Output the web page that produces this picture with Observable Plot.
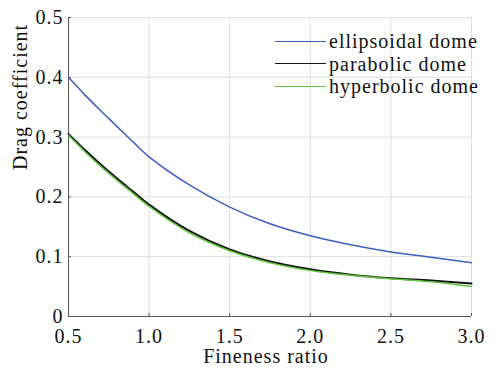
<!DOCTYPE html>
<html>
<head>
<meta charset="utf-8">
<script src="https://cdn.jsdelivr.net/npm/d3@7"></script>
<script src="https://cdn.jsdelivr.net/npm/@observablehq/plot@0.6"></script>
<style>
  html, body { margin: 0; padding: 0; background: #fff; }
  #wrap { position: relative; width: 501px; height: 370px; }
  #legend { position: absolute; left: 275px; top: 30px; font-size: 20px; line-height: 22.5px; color: #111; }
  #legend .row { display: flex; align-items: center; white-space: nowrap; }
  #legend .swatch { width: 51px; height: 0; margin-right: 3px; }
</style>
</head>
<body>
<div id="wrap"></div>
<script>
// Fineness ratio samples
const fineness = [0.5, 0.6, 0.7, 0.8, 0.9, 1.0, 1.25, 1.5, 1.75, 2.0, 2.25, 2.5, 2.75, 3.0];
// Drag coefficient per dome shape
const ellipsoidal = [0.400, 0.371, 0.344, 0.318, 0.292, 0.267, 0.220, 0.183, 0.155, 0.135, 0.120, 0.108, 0.099, 0.090];
const parabolic   = [0.305, 0.279, 0.254, 0.231, 0.209, 0.187, 0.143, 0.112, 0.092, 0.079, 0.070, 0.064, 0.060, 0.055];
const hyperbolic  = [0.303, 0.276, 0.251, 0.228, 0.206, 0.184, 0.140, 0.110, 0.090, 0.077, 0.069, 0.063, 0.058, 0.050];

const seriesNames = ["ellipsoidal dome", "parabolic dome", "hyperbolic dome"];
const seriesColors = ["#3b5fc0", "#111111", "#62c23f"];
const seriesWidths = [1.5, 2, 1.5];

const xTicks = [0.5, 1.0, 1.5, 2.0, 2.5, 3.0];
const yTicks = [0, 0.1, 0.2, 0.3, 0.4, 0.5];

const table = [];
[ellipsoidal, parabolic, hyperbolic].forEach((vals, s) => {
  vals.forEach((v, i) => table.push({series: seriesNames[s], x: fineness[i], y: v}));
});

const fontStack = '"Liberation Serif", monospace';
const fs = 20;
const spacing = "1px";

function setFont(el) {
  el.style.setProperty("font-family", fontStack, "important");
  el.style.setProperty("letter-spacing", spacing, "important");
}

const chart = Plot.plot({
  width: 501,
  height: 370,
  marginLeft: 68,
  marginRight: 30,
  marginTop: 17,
  marginBottom: 54,
  style: {fontSize: `${fs}px`, color: "#111", background: "transparent"},
  x: {domain: [0.5, 3.0]},
  y: {domain: [0, 0.5]},
  marks: [
    Plot.gridX(xTicks, {stroke: "#dedede", strokeOpacity: 1}),
    Plot.gridY(yTicks, {stroke: "#dedede", strokeOpacity: 1}),
    Plot.axisX({ticks: xTicks, tickSize: 0, tickPadding: 12, tickFormat: d3.format(".1f"), label: null, fontSize: fs}),
    Plot.axisY({ticks: yTicks, tickSize: 0, tickPadding: 5, tickFormat: d => d === 0 ? "0" : d.toFixed(1), label: null, fontSize: fs}),
    // inward tick marks
    Plot.ruleX(xTicks, {y1: 0, y2: 0, insetTop: -3, stroke: "#555"}),
    Plot.ruleY(yTicks, {x1: 0.5, x2: 0.5, insetRight: -3, stroke: "#555"}),
    Plot.ruleX([0.5], {stroke: "#555"}),
    Plot.ruleY([0], {stroke: "#555"}),
    ...seriesNames.map((name, s) =>
      Plot.line(table.filter(d => d.series === name), {
        x: "x", y: "y", stroke: seriesColors[s], strokeWidth: seriesWidths[s], curve: "catmull-rom"
      })
    ),
    Plot.text(["Fineness ratio"], {frameAnchor: "bottom", dy: 40.5, dx: -4, lineAnchor: "middle", fontSize: fs, fill: "#111"}),
    Plot.text(["Drag coefficient"], {frameAnchor: "left", dx: -48, dy: 3, rotate: -90, lineAnchor: "middle", fontSize: fs, fill: "#111"})
  ]
});

// serif face on every text element, set inline
setFont(chart);
chart.querySelectorAll("g, text").forEach(el => {
  el.setAttribute("font-family", fontStack);
  if (el.tagName === "text") setFont(el);
});

const wrap = document.getElementById("wrap");
wrap.appendChild(chart);

const legend = document.createElement("div");
legend.id = "legend";
setFont(legend);
seriesNames.forEach((name, s) => {
  const row = document.createElement("div");
  row.className = "row";
  const sw = document.createElement("div");
  sw.className = "swatch";
  sw.style.borderTop = `${seriesWidths[s] === 2 ? 1.6 : 1.4}px solid ${seriesColors[s]}`;
  const label = document.createElement("span");
  label.textContent = name;
  setFont(label);
  row.appendChild(sw);
  row.appendChild(label);
  legend.appendChild(row);
});
wrap.appendChild(legend);
</script>
</body>
</html>
